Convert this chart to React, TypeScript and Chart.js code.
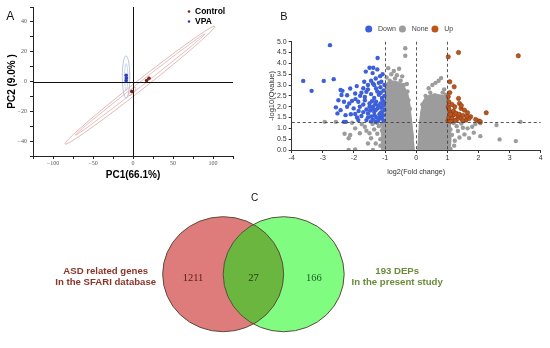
import React, { useEffect, useRef } from 'react';
import { Chart, registerables } from 'chart.js';

Chart.register(...registerables);

const SANS = "'Liberation Sans', Arial, Helvetica, sans-serif";
const SERIF = "'Liberation Serif', 'Times New Roman', serif";

/* ---------------- Panel A : PCA ---------------- */
const pcaGroups = ['Control', 'VPA'];
const pcaColors = ['#7a2318', '#2d3fc0'];
const controlScores: [number, number][] = [[17, 0.7], [20, 2.2], [-1.5, -6.7]];
const vpaScores: [number, number][] = [[-8.5, 4.2], [-8.2, 2.3], [-8.5, 0.6]];
const pcaXLabelTicks = [-100, -50, 0, 50, 100];
const pcaYLabelTicks = [-40, -20, 0, 20, 40];
const pcaXTitle = 'PC1(66.1%)';
const pcaYTitle = 'PC2 (9.0% )';
// confidence ellipse tips (data units)
const controlEllipseOuter: [number, number][] = [[-85, -42], [102, 37]];
const controlEllipseInner: [number, number][] = [[-72, -36], [90, 32]];
const controlEllipseCore: [number, number][] = [[-5, -9.5], [3, -4]];
const vpaEllipseOuter: [number, number][] = [[-8.7, -11], [-8.7, 17.2]];
const vpaEllipseInner: [number, number][] = [[-8.5, -6], [-8.5, 12]];

/* ---------------- Panel B : volcano ---------------- */
const volcanoLegend = ['Down', 'None', 'Up'];
const volcanoColors = ['#3d60da', '#9c9c9c', '#bd561d'];
const fcCutoffs = [-1, 0, 1];
const qCutoff = 1.3;
const volcanoXTitle = 'log2(Fold change)';
const volcanoYTitle = '-log10(Qvalue)';

const downPoints: [number, number][] = [
  [-3.63, 3.19], [-3.36, 2.73], [-2.97, 3.19], [-2.77, 4.84], [-2.65, 3.27],
  [-2.43, 2.77], [-2.37, 2.73], [-2.4, 2.54], [-2.22, 2.53], [-2.12, 2.84], [-1.91, 2.95], [-1.96, 2.61],
  [-1.76, 2.64], [-1.6, 2.69], [-1.45, 2.58], [-1.14, 2.64],
  [-1.24, 4.25], [-1.5, 3.8], [-1.38, 3.8], [-1.25, 3.72], [-1.62, 3.62], [-1.4, 3.55], [-1.16, 3.41],
  [-1.67, 3.15], [-1.55, 3.0], [-1.39, 3.07], [-1.29, 2.84],
  [-2.5, 2.3], [-2.32, 2.23], [-2.06, 2.27], [-1.86, 2.23], [-1.65, 2.3], [-1.5, 2.15], [-1.29, 2.23], [-1.08, 2.3],
  [-2.58, 1.97], [-2.43, 1.84], [-2.22, 2.0], [-2.01, 1.92], [-1.81, 2.0], [-1.6, 1.87], [-1.39, 2.0], [-1.24, 1.92],
  [-2.53, 1.69], [-2.27, 1.61], [-1.96, 1.66], [-1.76, 1.57], [-1.55, 1.69], [-1.34, 1.61], [-1.14, 1.72],
  [-2.32, 1.3], [-2.26, 1.3], [-1.86, 1.38], [-1.6, 1.38], [-1.39, 1.41], [-1.19, 1.46],
  [-1.05, 1.35], [-1.1, 1.45], [-1.15, 1.55], [-1.05, 1.6], [-1.1, 1.75], [-1.02, 1.85], [-1.12, 1.95],
  [-1.05, 2.05], [-1.15, 2.15], [-1.03, 2.2], [-1.1, 2.4], [-1.02, 2.5], [-1.2, 2.55], [-1.05, 2.75],
  [-1.15, 2.9], [-1.02, 3.0], [-1.22, 1.35], [-1.28, 1.5], [-1.35, 1.75], [-1.3, 1.85], [-1.22, 2.05],
  [-1.32, 2.1], [-1.45, 1.55], [-1.48, 1.82], [-1.42, 2.25], [-1.35, 2.4], [-1.25, 2.7], [-1.3, 1.3],
  [-1.45, 1.32], [-1.18, 1.65], [-1.4, 1.9], [-1.5, 2.0], [-1.55, 1.5], [-1.7, 1.75], [-1.7, 2.1],
  [-1.85, 1.8], [-1.9, 1.5], [-2.1, 1.65], [-2.15, 2.15], [-1.65, 2.45], [-1.8, 2.5], [-1.95, 2.35],
  [-1.12, 3.15], [-1.08, 3.5], [-1.3, 3.3], [-1.45, 3.2], [-1.35, 3.0], [-1.2, 3.1], [-1.55, 2.8], [-1.7, 2.85],
];

const upPoints: [number, number][] = [
  [1.03, 4.3], [1.36, 4.5], [3.28, 4.35], [1.08, 3.15], [1.22, 2.92], [1.03, 2.46], [1.05, 2.23],
  [1.36, 2.38], [1.39, 2.15], [1.24, 2.0], [1.03, 2.0], [1.08, 1.77], [1.44, 1.92], [1.55, 1.84],
  [1.65, 1.72], [2.25, 1.72], [2.01, 1.34], [2.06, 1.31], [1.19, 1.61], [1.34, 1.57], [1.13, 1.38],
  [1.44, 1.46], [1.75, 1.54], [1.6, 1.38], [1.91, 1.41], [1.02, 1.35], [1.05, 1.5], [1.1, 1.65],
  [1.15, 1.45], [1.2, 1.8], [1.28, 1.7], [1.3, 1.4], [1.25, 1.35], [1.38, 1.65], [1.5, 1.6],
  [1.05, 1.9], [1.15, 2.1], [1.5, 1.35], [1.7, 1.45], [1.08, 2.65], [1.12, 1.32], [1.45, 2.05], [1.62, 1.55],
];

const nonePoints: [number, number][] = [
  [-0.35, 4.7], [-0.35, 4.35], [-0.55, 3.75], [-0.72, 3.65], [-0.9, 3.78], [-0.8, 3.5], [-0.62, 3.45],
  [-0.45, 3.4], [-0.95, 3.35], [-0.3, 3.05], [-0.5, 3.2], [-0.68, 3.3], [-0.85, 3.2], [-0.28, 2.7],
  [-0.25, 2.3], [-0.2, 1.9], [-0.4, 3.0],
  [0.4, 2.85], [0.52, 3.0], [0.62, 3.1], [0.72, 3.2], [0.8, 3.32], [0.9, 2.8], [0.45, 2.65], [0.3, 2.5],
  [0.85, 2.65], [0.95, 2.55], [0.2, 2.1],
  [-2.94, 1.3], [-2.58, 1.3], [-2.06, 1.26], [-1.96, 1.0], [-1.65, 1.07], [-1.6, 0.89], [-1.81, 0.77],
  [-1.5, 0.77], [-2.12, 0.69], [-2.17, 0.54], [-1.45, 0.54], [-2.17, 0.0], [-1.96, 0.03], [-1.39, 0.0],
  [-1.3, 0.3], [-1.25, 0.75], [-1.2, 1.1], [-1.35, 0.95], [-1.15, 0.5], [-1.1, 0.9], [-1.55, 0.3],
  [-2.3, 0.75], [-1.75, 1.2], [-1.4, 1.2], [-1.25, 1.25], [-1.1, 1.2], [-1.15, 0.2],
  [2.06, 1.23], [2.58, 1.15], [3.35, 1.3], [2.68, 0.49], [3.2, 0.41], [1.8, 1.07], [1.65, 1.0],
  [1.5, 1.03], [1.34, 0.88], [1.39, 0.58], [1.24, 0.43], [1.22, 0.2], [1.1, 0.05], [1.55, 0.72],
  [2.06, 0.64], [1.85, 0.8], [1.15, 0.7], [1.05, 1.15], [1.3, 1.1], [1.1, 0.95], [1.2, 1.25],
  [1.45, 1.22], [1.7, 0.55], [1.05, 0.4], [1.9, 1.2],
];

// outline of the dense, fully overlapping grey point clouds
const noneMassLeft: [number, number][] = [
  [-0.04, 0], [-1.12, 0], [-1.12, 1.0], [-1.05, 1.3], [-1.0, 1.35], [-1.0, 2.9], [-0.95, 3.1],
  [-0.8, 3.2], [-0.6, 3.15], [-0.45, 3.05], [-0.35, 2.85], [-0.26, 2.55], [-0.2, 2.1], [-0.16, 1.5],
  [-0.12, 1.0], [-0.08, 0.5],
];
const noneMassRight: [number, number][] = [
  [0.04, 0], [0.07, 0.5], [0.1, 1.2], [0.15, 1.8], [0.2, 2.2], [0.3, 2.45], [0.45, 2.55], [0.6, 2.6],
  [0.75, 2.55], [0.9, 2.5], [1.0, 2.35], [1.02, 1.3], [1.1, 1.2], [1.12, 0.6], [1.1, 0],
];

/* ---------------- Panel C : Venn ---------------- */
const vennSetNames = [['ASD related genes', 'In the SFARI database'], ['193 DEPs', 'In the present study']];
const vennCounts = [1211, 27, 166]; // left only, shared, right only

const toXY = (arr: [number, number][]) => arr.map(([x, y]) => ({ x, y }));

/* ---------------- plugins ---------------- */
const pcaEllipses = [
  { tips: controlEllipseOuter, ratio: 0.05, color: '#d9a7a4' },
  { tips: controlEllipseInner, ratio: 0.025, color: '#dcb0ad' },
  { tips: controlEllipseCore, ratio: 0.35, color: '#e7a9a9' },
  { tips: vpaEllipseOuter, ratio: 0.18, color: '#a9b8d8' },
  { tips: vpaEllipseInner, ratio: 0.12, color: '#c0cae2' },
];

const pcaPlugin = {
  id: 'pcaDecor',
  beforeDatasetsDraw(chart: any) {
    const { ctx, chartArea: a, scales } = chart;
    const x = scales.x, y = scales.y;
    ctx.save();
    pcaEllipses.forEach((e) => {
      const [p, q] = e.tips;
      const x1 = x.getPixelForValue(p[0]), y1 = y.getPixelForValue(p[1]);
      const x2 = x.getPixelForValue(q[0]), y2 = y.getPixelForValue(q[1]);
      const r = Math.hypot(x2 - x1, y2 - y1) / 2;
      ctx.beginPath();
      ctx.ellipse((x1 + x2) / 2, (y1 + y2) / 2, r, r * e.ratio, Math.atan2(y2 - y1, x2 - x1), 0, Math.PI * 2);
      ctx.strokeStyle = e.color;
      ctx.lineWidth = 0.8;
      ctx.stroke();
    });
    const x0 = Math.round(x.getPixelForValue(0)) + 0.5;
    const y0 = Math.round(y.getPixelForValue(0)) + 0.5;
    ctx.strokeStyle = '#111';
    ctx.lineWidth = 1;
    ctx.beginPath();
    ctx.moveTo(x0, a.top);
    ctx.lineTo(x0, a.bottom);
    ctx.moveTo(a.left, y0);
    ctx.lineTo(a.right, y0);
    ctx.stroke();
    ctx.restore();
  },
  afterDraw(chart: any) {
    const { ctx, chartArea: a } = chart;
    ctx.save();
    chart.data.datasets.forEach((ds: any, i: number) => {
      const cx = a.right - 44;
      const cy = a.top + 4.5 + i * 10;
      ctx.fillStyle = ds.backgroundColor;
      ctx.beginPath();
      ctx.arc(cx, cy, 1.3, 0, Math.PI * 2);
      ctx.fill();
      ctx.fillStyle = '#000';
      ctx.font = `bold 8.5px ${SANS}`;
      ctx.textBaseline = 'middle';
      ctx.textAlign = 'left';
      ctx.fillText(ds.label, cx + 6, cy);
    });
    ctx.restore();
  },
};

const volcanoPlugin = {
  id: 'volcanoDecor',
  afterDatasetsDraw(chart: any) {
    const { ctx, chartArea: a, scales } = chart;
    const x = scales.x, y = scales.y;
    ctx.save();
    ctx.strokeStyle = '#444';
    ctx.lineWidth = 0.9;
    ctx.setLineDash([3, 2.5]);
    ctx.beginPath();
    fcCutoffs.forEach((v) => {
      const px = Math.round(x.getPixelForValue(v)) + 0.5;
      ctx.moveTo(px, a.top);
      ctx.lineTo(px, a.bottom);
    });
    const py = Math.round(y.getPixelForValue(qCutoff)) + 0.5;
    ctx.moveTo(a.left, py);
    ctx.lineTo(a.right, py);
    ctx.stroke();
    ctx.restore();
  },
  afterDraw(chart: any) {
    const { ctx, chartArea: a } = chart;
    ctx.save();
    ctx.font = `7px ${SANS}`;
    const r = 3.5, gap = 9.3, spacing = 6.5;
    const widths = volcanoLegend.map((t) => ctx.measureText(t).width);
    const total = r + widths.reduce((s, w) => s + gap + w, 0) + spacing * (volcanoLegend.length - 1);
    let cx = (a.left + a.right) / 2 - 7 - total / 2 + r;
    const cy = a.top - 12.7;
    ctx.textBaseline = 'middle';
    ctx.textAlign = 'left';
    volcanoLegend.forEach((t, i) => {
      ctx.fillStyle = volcanoColors[i];
      ctx.beginPath();
      ctx.arc(cx, cy, r, 0, Math.PI * 2);
      ctx.fill();
      ctx.fillStyle = '#444';
      ctx.fillText(t, cx + gap, cy);
      cx += gap + widths[i] + spacing;
    });
    ctx.restore();
  },
};

const vennPlugin = {
  id: 'venn',
  afterDatasetsDraw(chart: any) {
    const { ctx, scales } = chart;
    const x = scales.x, y = scales.y;
    const rx = x.getPixelForValue(1) - x.getPixelForValue(0);
    const ry = y.getPixelForValue(0) - y.getPixelForValue(1);
    const cy = y.getPixelForValue(0);
    const cL = x.getPixelForValue(0);
    const cR = x.getPixelForValue(1);
    const path = (cx: number) => {
      ctx.beginPath();
      ctx.ellipse(cx, cy, rx, ry, 0, 0, Math.PI * 2);
    };
    ctx.save();
    path(cL);
    ctx.fillStyle = '#de7b7b';
    ctx.fill();
    path(cR);
    ctx.fillStyle = '#80fd80';
    ctx.fill();
    ctx.save();
    path(cL);
    ctx.clip();
    path(cR);
    ctx.fillStyle = '#6bb63f';
    ctx.fill();
    ctx.restore();
    ctx.strokeStyle = '#5c4b3e';
    ctx.lineWidth = 1;
    path(cL);
    ctx.stroke();
    path(cR);
    ctx.stroke();

    // counts
    ctx.font = `10.5px ${SERIF}`;
    ctx.textAlign = 'center';
    ctx.textBaseline = 'middle';
    const countX = [x.getPixelForValue(-0.5), x.getPixelForValue(0.5), x.getPixelForValue(1.5)];
    const countColors = ['#5b1a1a', '#1f3a12', '#1e5a28'];
    vennCounts.forEach((c, i) => {
      ctx.fillStyle = countColors[i];
      ctx.fillText(String(c), countX[i], cy + 4);
    });

    // set labels
    ctx.font = `bold 9.6px ${SANS}`;
    const labelColors = ['#8b3528', '#6a8c3a'];
    vennSetNames.forEach((lines, i) => {
      const lw = Math.max(...lines.map((l) => ctx.measureText(l).width));
      const bx = i === 0 ? cL - rx - 6.6 - lw / 2 : cR + rx + 7.4 + lw / 2;
      ctx.fillStyle = labelColors[i];
      lines.forEach((l, j) => ctx.fillText(l, bx, cy - 3.2 + j * 11.7));
    });
    ctx.restore();
  },
};

const minus = (v: number) => String(v).replace('-', '\u2212');

export default function App() {
  const aRef = useRef<HTMLCanvasElement>(null);
  const bRef = useRef<HTMLCanvasElement>(null);
  const cRef = useRef<HTMLCanvasElement>(null);

  useEffect(() => {
    const chartA = new Chart(aRef.current as HTMLCanvasElement, {
      type: 'scatter',
      data: {
        datasets: [
          { label: pcaGroups[0], data: toXY(controlScores), backgroundColor: pcaColors[0], pointRadius: 1.8, borderWidth: 0 },
          { label: pcaGroups[1], data: toXY(vpaScores), backgroundColor: pcaColors[1], pointRadius: 1.8, borderWidth: 0 },
        ],
      },
      options: {
        responsive: false,
        animation: false,
        events: [],
        layout: { padding: { top: 7, right: 29, left: 0, bottom: 0 } },
        plugins: { legend: { display: false }, tooltip: { enabled: false } },
        scales: {
          x: {
            type: 'linear', min: -125, max: 125,
            ticks: {
              stepSize: 25, autoSkip: false, maxRotation: 0, padding: 1, color: '#555',
              font: { family: SERIF, size: 6 },
              callback: (v: any) => (pcaXLabelTicks.includes(v) ? minus(v) : ''),
            },
            grid: { drawOnChartArea: false, drawTicks: true, tickLength: 3, color: '#222' },
            border: { color: '#222', width: 1 },
            title: { display: true, text: pcaXTitle, color: '#000', font: { family: SANS, size: 10, weight: 'bold' }, padding: { top: 0, bottom: 4 } },
            afterFit: (s: any) => { s.height = 29; },
          },
          y: {
            type: 'linear', min: -50, max: 50,
            ticks: {
              stepSize: 10, autoSkip: false, padding: 3, color: '#555',
              font: { family: SERIF, size: 6 },
              callback: (v: any) => (pcaYLabelTicks.includes(v) ? minus(v) : ''),
            },
            grid: { drawOnChartArea: false, drawTicks: true, tickLength: 3, color: '#222' },
            border: { color: '#222', width: 1 },
            title: { display: true, text: pcaYTitle, color: '#000', font: { family: SANS, size: 10, weight: 'bold' }, padding: { top: 6, bottom: 0 } },
            afterFit: (s: any) => { s.width = 33; },
          },
        },
      } as any,
      plugins: [pcaPlugin],
    });

    const chartB = new Chart(bRef.current as HTMLCanvasElement, {
      type: 'scatter',
      data: {
        datasets: [
          { type: 'line', label: 'mass-left', data: toXY(noneMassLeft), backgroundColor: volcanoColors[1], borderColor: volcanoColors[1], borderWidth: 1, pointRadius: 0, fill: 'shape', tension: 0, order: 6 } as any,
          { type: 'line', label: 'mass-right', data: toXY(noneMassRight), backgroundColor: volcanoColors[1], borderColor: volcanoColors[1], borderWidth: 1, pointRadius: 0, fill: 'shape', tension: 0, order: 5 } as any,
          { label: volcanoLegend[1], data: toXY(nonePoints), backgroundColor: volcanoColors[1], pointRadius: 2.2, borderWidth: 0, order: 4 },
          { label: volcanoLegend[0], data: toXY(downPoints), backgroundColor: volcanoColors[0], pointRadius: 2.2, borderWidth: 0, order: 2 },
          { label: volcanoLegend[2], data: toXY(upPoints), backgroundColor: volcanoColors[2], pointRadius: 2.2, borderWidth: 0.5, borderColor: '#7d3510', order: 1 },
        ],
      },
      options: {
        responsive: false,
        animation: false,
        events: [],
        layout: { padding: { top: 41.7, right: 9.3, left: 0, bottom: 0 } },
        plugins: { legend: { display: false }, tooltip: { enabled: false } },
        scales: {
          x: {
            type: 'linear', min: -4, max: 4,
            ticks: { stepSize: 1, autoSkip: false, maxRotation: 0, padding: 1, color: '#333', font: { family: SANS, size: 7 } },
            grid: { drawOnChartArea: false, drawTicks: true, tickLength: 3, color: '#333' },
            border: { color: '#333', width: 1 },
            title: { display: true, text: volcanoXTitle, color: '#333', font: { family: SANS, size: 7.2 }, padding: { top: 0, bottom: 9 } },
            afterFit: (s: any) => { s.height = 35; },
          },
          y: {
            type: 'linear', min: 0, max: 5,
            ticks: { stepSize: 0.5, autoSkip: false, padding: 2, color: '#333', font: { family: SANS, size: 7 }, callback: (v: any) => Number(v).toFixed(1) },
            grid: { drawOnChartArea: false, drawTicks: true, tickLength: 3, color: '#333' },
            border: { color: '#333', width: 1 },
            title: { display: true, text: volcanoYTitle, color: '#333', font: { family: SANS, size: 7.5 }, padding: { top: 5, bottom: 0 } },
            afterFit: (s: any) => { s.width = 29.7; },
          },
        },
      } as any,
      plugins: [volcanoPlugin],
    });

    const chartC = new Chart(cRef.current as HTMLCanvasElement, {
      type: 'scatter',
      data: { datasets: [] },
      options: {
        responsive: false,
        animation: false,
        events: [],
        layout: { padding: 0 },
        plugins: { legend: { display: false }, tooltip: { enabled: false } },
        scales: {
          x: { type: 'linear', display: false, min: -3.689, max: 5.402 },
          y: { type: 'linear', display: false, min: -1.283, max: 1.551 },
        },
      } as any,
      plugins: [vennPlugin],
    });

    return () => {
      chartA.destroy();
      chartB.destroy();
      chartC.destroy();
    };
  }, []);

  const letter = (t: string, left: number, top: number, size: number) => (
    <div style={{ position: 'absolute', left, top, fontSize: size, lineHeight: `${size}px`, fontFamily: SANS, color: '#111' }}>{t}</div>
  );

  return (
    <div style={{ position: 'absolute', left: 0, top: 0, width: 550, height: 348, background: '#fff', overflow: 'hidden' }}>
      <canvas ref={aRef} width={262} height={185} style={{ position: 'absolute', left: 0, top: 0, width: 262, height: 185 }} />
      <canvas ref={bRef} width={288} height={185} style={{ position: 'absolute', left: 262, top: 0, width: 288, height: 185 }} />
      <canvas ref={cRef} width={550} height={163} style={{ position: 'absolute', left: 0, top: 185, width: 550, height: 163 }} />
      {letter('A', 6.3, 9.9, 12)}
      {letter('B', 280.3, 11.3, 11)}
      {letter('C', 250.9, 193.4, 10)}
    </div>
  );
}
